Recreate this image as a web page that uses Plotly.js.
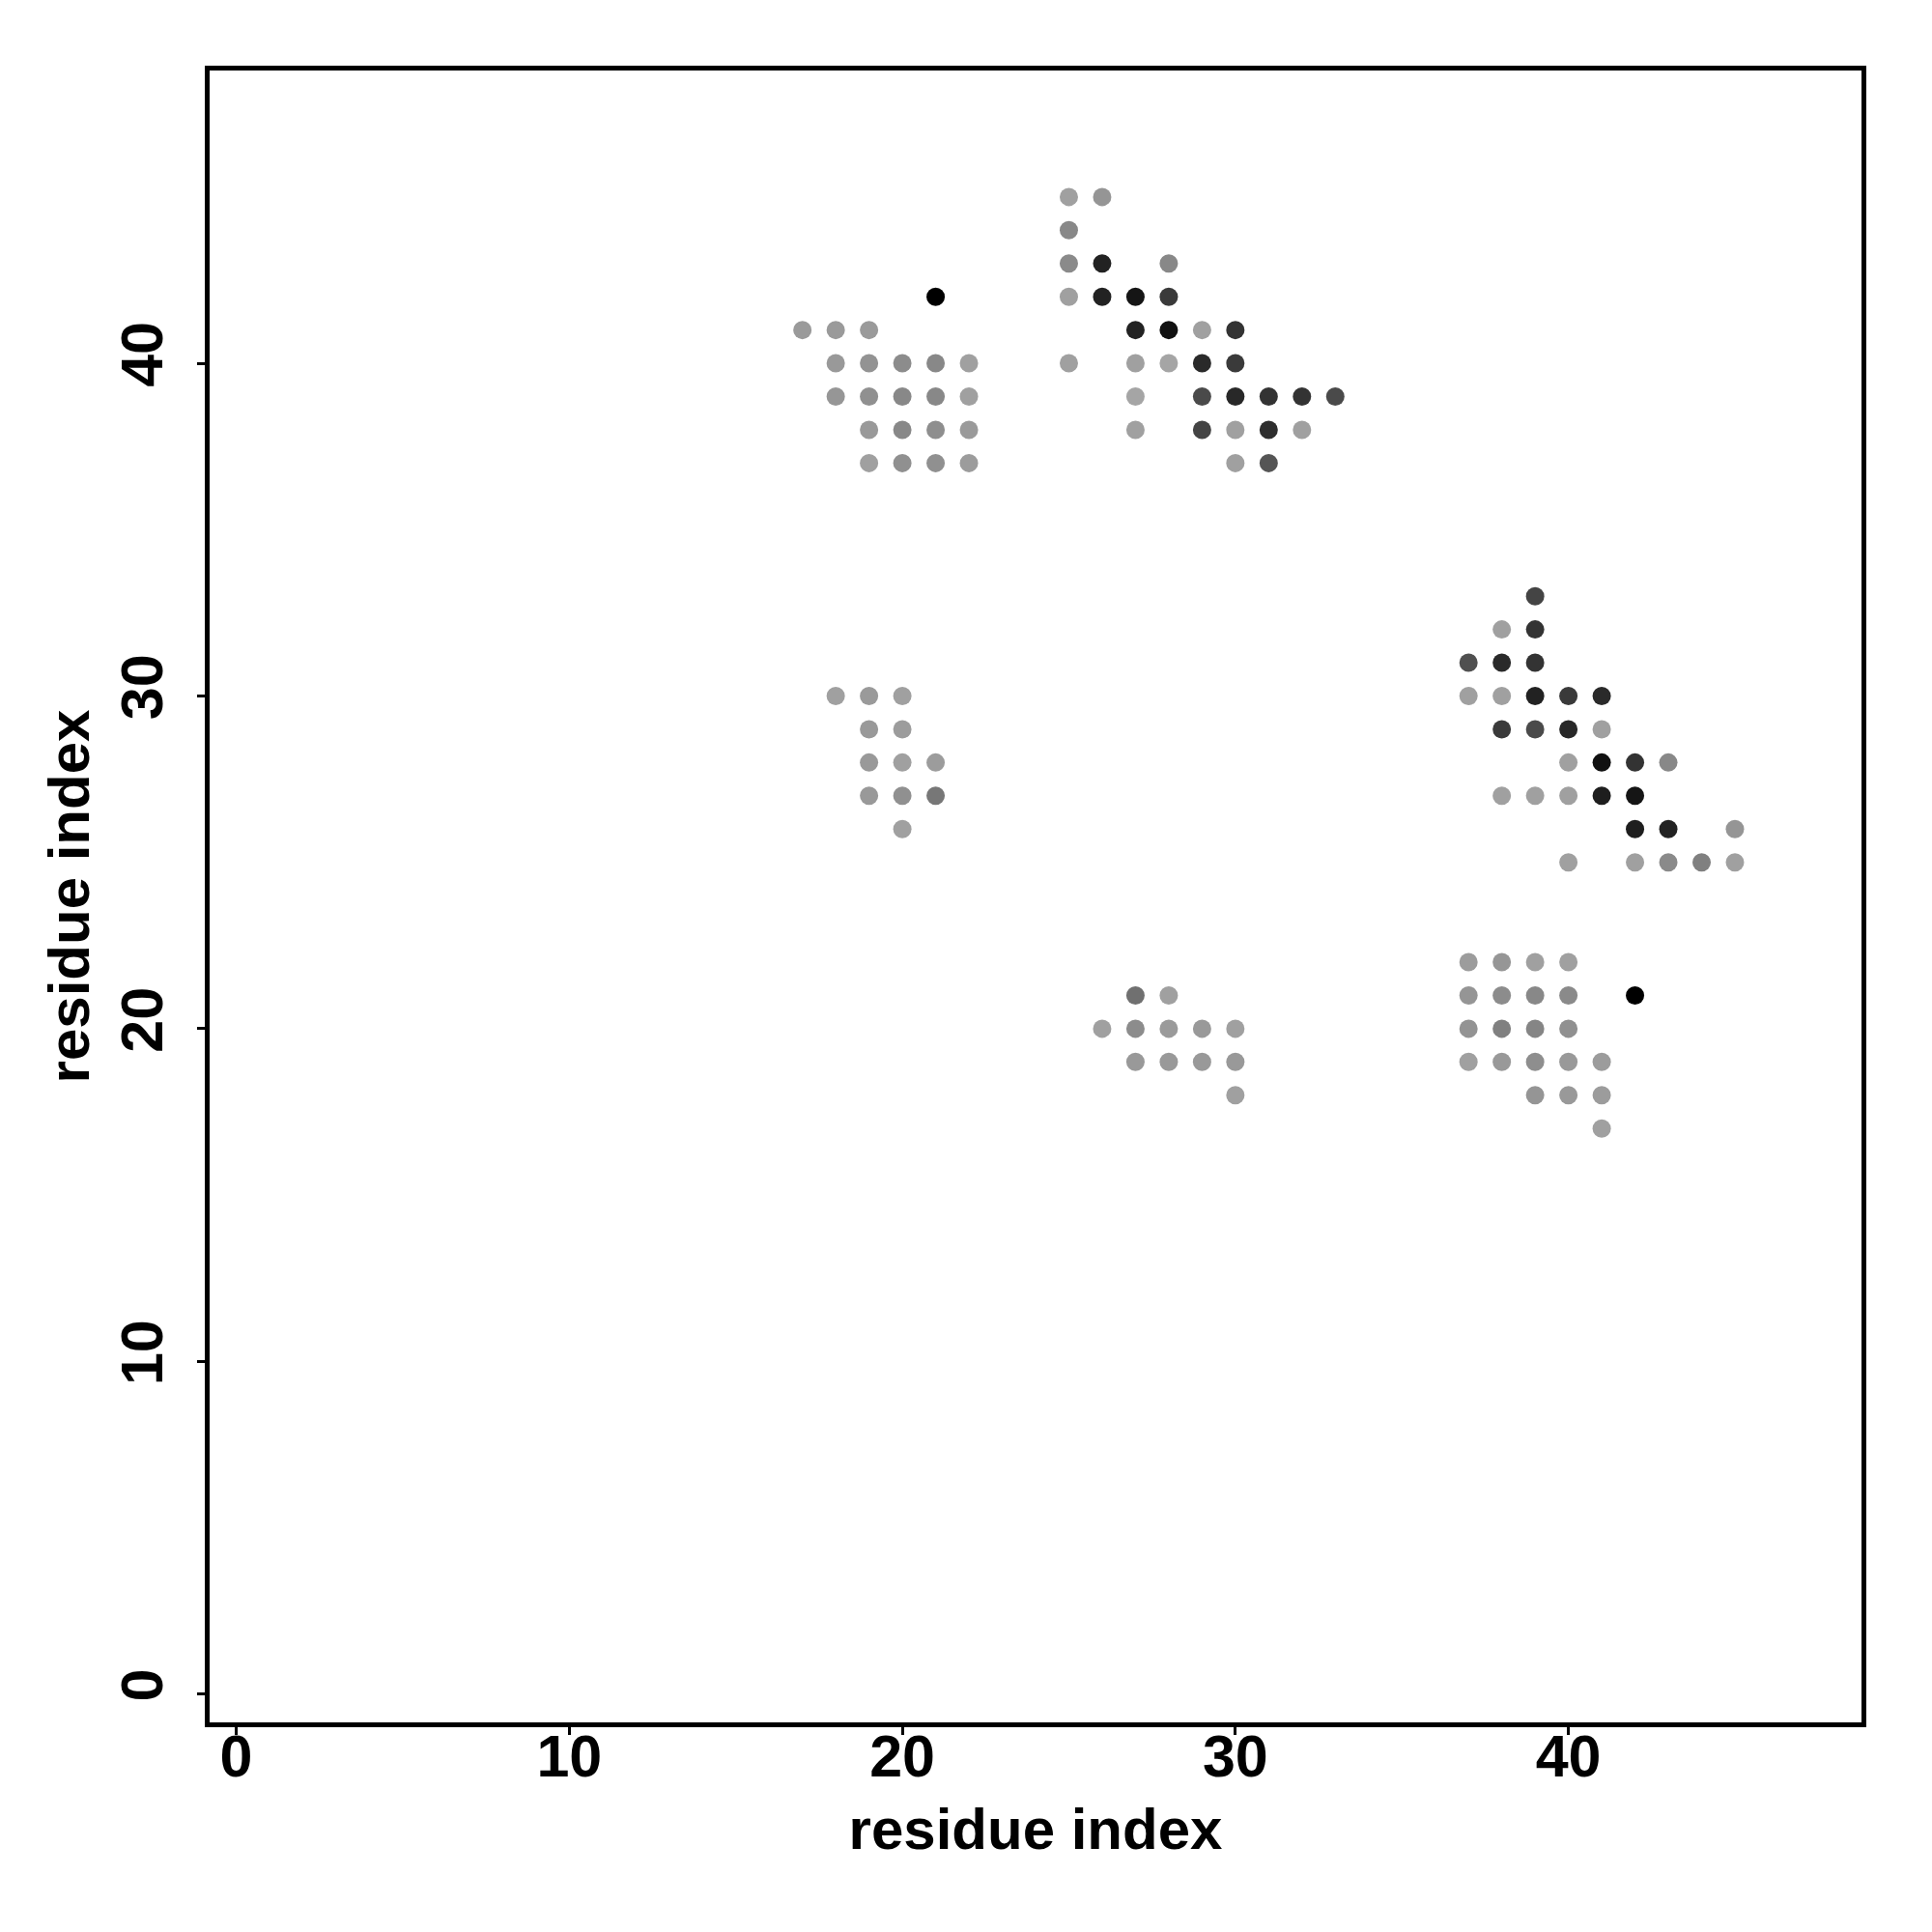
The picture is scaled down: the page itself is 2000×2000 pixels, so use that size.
<!DOCTYPE html>
<html>
<head>
<meta charset="utf-8">
<script src="https://cdn.plot.ly/plotly-3.0.1.min.js"></script>
<style>html,body{margin:0;padding:0;background:#fff;}#plot{width:2000px;height:2000px;}</style>
</head>
<body>
<div id="plot"></div>
<script>
// residue i, residue j, grey level of the dot (0 = black, 255 = white)
const resX = [
  21,
  17,18,19,
  18,19,20,21,22,
  18,19,20,21,22,
  19,20,21,22,
  19,20,21,22,
  25,26,
  25,
  25,26,28,
  25,26,27,28,
  27,28,29,30,
  25,27,28,29,30,
  27,29,30,31,32,33,
  27,29,30,31,32,
  30,31,
  18,19,20,
  19,20,
  19,20,21,
  19,20,21,
  20,
  27,28,
  26,27,28,29,30,
  27,28,29,30,
  30,
  39,
  38,39,
  37,38,39,
  37,38,39,40,41,
  38,39,40,41,
  40,41,42,43,
  38,39,40,41,42,
  42,43,45,
  40,42,43,44,45,
  37,38,39,40,
  37,38,39,40,42,
  37,38,39,40,
  37,38,39,40,41,
  39,40,41,
  41
];
const resY = [
  42,
  41,41,41,
  40,40,40,40,40,
  39,39,39,39,39,
  38,38,38,38,
  37,37,37,37,
  45,45,
  44,
  43,43,43,
  42,42,42,42,
  41,41,41,41,
  40,40,40,40,40,
  39,39,39,39,39,39,
  38,38,38,38,38,
  37,37,
  30,30,30,
  29,29,
  28,28,28,
  27,27,27,
  26,
  21,21,
  20,20,20,20,20,
  19,19,19,19,
  18,
  33,
  32,32,
  31,31,31,
  30,30,30,30,30,
  29,29,29,29,
  28,28,28,28,
  27,27,27,27,27,
  26,26,26,
  25,25,25,25,25,
  22,22,22,22,
  21,21,21,21,21,
  20,20,20,20,
  19,19,19,19,19,
  18,18,18,
  17
];
const shade = [
  0,
  154,154,154,
  153,147,140,136,160,
  150,144,136,136,160,
  153,136,142,154,
  160,144,144,156,
  160,149,
  136,
  138,34,136,
  160,34,21,58,
  34,17,160,51,
  160,160,165,42,58,
  165,74,40,51,51,74,
  160,68,160,46,160,
  160,85,
  160,154,160,
  153,156,
  153,160,156,
  153,144,119,
  160,
  112,160,
  160,140,154,153,160,
  153,153,153,153,
  160,
  68,
  160,51,
  80,42,51,
  160,160,34,58,42,
  58,74,40,160,
  160,17,51,136,
  160,160,160,30,21,
  30,34,149,
  160,160,138,128,160,
  156,150,160,160,
  149,140,136,138,0,
  147,128,133,144,
  160,153,142,153,156,
  149,153,156,
  160
];
const xTicks = [0, 10, 20, 30, 40];
const yTicks = [0, 10, 20, 30, 40];
const xTitle = 'residue index';
const yTitle = 'residue index';

const fontFam = 'Liberation Sans, Arial, sans-serif';
const trace = {
  type: 'scatter',
  mode: 'markers',
  x: resX,
  y: resY,
  marker: {
    size: 19,
    color: shade,
    cmin: 0,
    cmax: 255,
    colorscale: [[0, 'rgb(0,0,0)'], [1, 'rgb(255,255,255)']],
    showscale: false,
    line: {width: 0}
  },
  hoverinfo: 'x+y'
};

const axisCommon = {
  showgrid: false,
  zeroline: false,
  showline: true,
  linecolor: '#000',
  linewidth: 5,
  mirror: true,
  ticks: 'outside',
  ticklen: 8,
  tickwidth: 3,
  tickcolor: '#000',
  tickmode: 'array',
  tickfont: {family: fontFam, size: 61, color: '#000', weight: 'bold'}
};

const layout = {
  width: 2000,
  height: 2000,
  paper_bgcolor: '#fff',
  plot_bgcolor: '#fff',
  showlegend: false,
  margin: {l: 217, r: 73, t: 73, b: 217},
  xaxis: Object.assign({}, axisCommon, {
    range: [-0.8, 48.8],
    tickvals: xTicks,
    ticktext: xTicks.map(String),
    ticklabelstandoff: -30,
    title: {text: '<b>' + xTitle + '</b>', font: {family: fontFam, size: 60, color: '#000'}, standoff: 22}
  }),
  yaxis: Object.assign({}, axisCommon, {
    range: [-0.85, 48.8],
    tickvals: yTicks,
    ticktext: yTicks.map(String),
    tickangle: -90,
    ticklabelstandoff: 12,
    title: {text: '<b>' + yTitle + '</b>', font: {family: fontFam, size: 60, color: '#000'}, standoff: 2}
  })
};

Plotly.newPlot('plot', [trace], layout, {displayModeBar: false, staticPlot: true});
</script>
</body>
</html>
